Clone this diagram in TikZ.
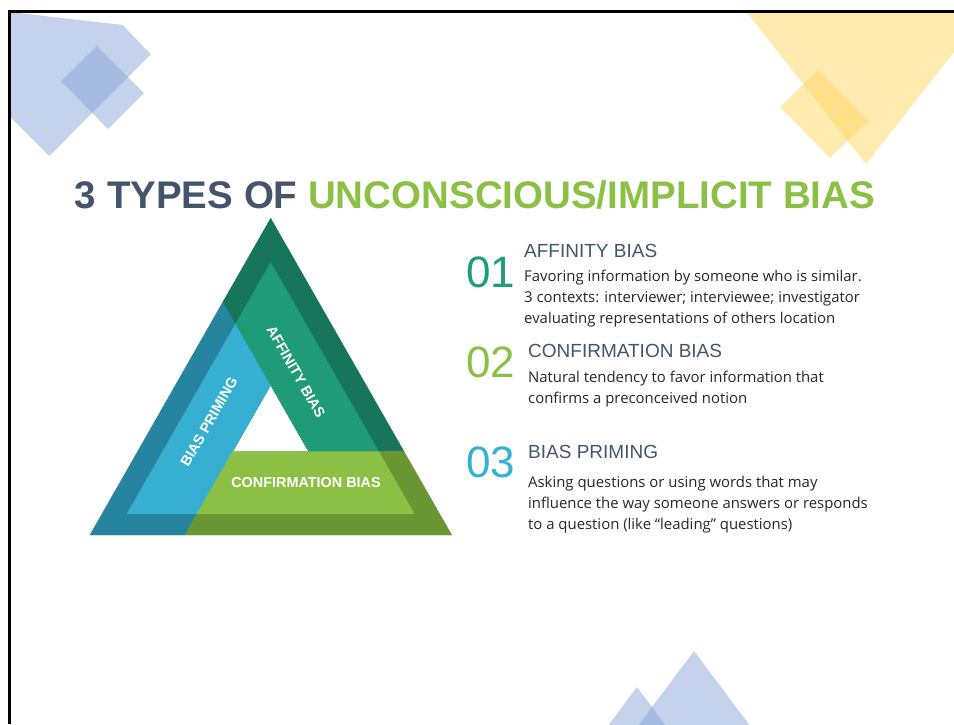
\documentclass[tikz,border=0pt]{standalone}
\usepackage{fontspec}
\setmainfont{Open Sans}
\newfontfamily\headfont{Liberation Sans}
\usetikzlibrary{positioning}

\definecolor{slate}{HTML}{44546A}
\definecolor{titlegreen}{HTML}{8CC044}
\definecolor{numteal}{HTML}{1F9C78}
\definecolor{numgreen}{HTML}{8CC044}
\definecolor{numblue}{HTML}{36B0D3}
\definecolor{bluedark}{HTML}{26849E}
\definecolor{bluelight}{HTML}{36AFD2}
\definecolor{greendark}{HTML}{17755C}
\definecolor{greenlight}{HTML}{1F9B77}
\definecolor{olivedark}{HTML}{6A9533}
\definecolor{olivelight}{HTML}{8CC045}
\definecolor{decoblue}{HTML}{89A5D9}
\definecolor{decoyellow}{HTML}{FFD55F}

\begin{document}
\begin{tikzpicture}[
        x=1pt, y=-1pt,
        band/.style={fill=#1, draw=#1, line width=0.4pt},
        deco/.style={fill=#1, fill opacity=0.5},
        bandlbl/.style={
            font=\headfont\bfseries\fontsize{14.4}{14.4}\selectfont,
            text=white,
            inner sep=0pt
        },
        heading/.style={
            font=\headfont\fontsize{19}{19}\selectfont,
            text=slate,
            anchor=base west,
            inner sep=0pt
        },
        bignum/.style={
            font=\headfont\fontsize{44}{44}\selectfont,
            anchor=base west,
            inner sep=0pt
        },
        body/.style={
            font=\fontsize{14.9}{21}\selectfont,
            text=black!85,
            align=left,
            inner sep=0pt
        }
    ]

        \clip (0,0) rectangle (954,724);

        \fill[deco=decoblue] (10,12) -- (122.7,25) -- (150.7,54.3) -- (49.3,156) -- (10,116.7) -- cycle;
        \fill[deco=decoblue] (97,46) -- (144,93) -- (108,129) -- (61,81) -- cycle;
        \fill[deco=decoyellow] (745,10) -- (987,10) -- (866,164) -- cycle;
        \fill[deco=decoyellow] (818,70) -- (868,121) -- (830,158) -- (780,107) -- cycle;
        \fill[deco=decoblue] (694,651) -- (760.75,740) -- (627.25,740) -- cycle;
        \fill[deco=decoblue] (637,687) -- (676.75,740) -- (597.25,740) -- cycle;

        \draw[line width=3pt] (9,724) -- (9,11) -- (954,11);

        \node[font=\headfont\bfseries\fontsize{38.5}{40}\selectfont, anchor=base, inner sep=0pt] (title) at (475,208)
            {\textcolor{slate}{3 TYPES OF} \textcolor{titlegreen}{UNCONSCIOUS/IMPLICIT BIAS}};

        \coordinate (A)  at (270.7,218.3);
        \coordinate (BL) at (90,535);
        \coordinate (BR) at (451.7,535);
        \coordinate (a)  at (270.7,262);
        \coordinate (bl) at (126.7,514);
        \coordinate (br) at (414.7,514);
        \coordinate (H)  at (270.7,385);
        \coordinate (PL) at (223.07,301.65);
        \coordinate (PR) at (404.09,451.7);
        \coordinate (HL) at (232.58,451.7);
        \coordinate (HR) at (308.82,451.7);
        \coordinate (BB) at (184.97,535);

        \filldraw[band=bluedark]  (BL) -- (PL) -- (H) -- (BB) -- cycle;
        \filldraw[band=greendark] (A) -- (PR) -- (HR) -- (H) -- (PL) -- cycle;
        \filldraw[band=olivedark] (HL) -- (PR) -- (BR) -- (BB) -- cycle;
        \begin{scope}
            \clip (a) -- (bl) -- (br) -- cycle;
            \filldraw[band=bluelight]  (BL) -- (PL) -- (H) -- (BB) -- cycle;
            \filldraw[band=greenlight] (A) -- (PR) -- (HR) -- (H) -- (PL) -- cycle;
            \filldraw[band=olivelight] (HL) -- (PR) -- (BR) -- (BB) -- cycle;
        \end{scope}

        \node[bandlbl, rotate=-60.25] (lblAff)  at (296,372) {AFFINITY BIAS};
        \node[bandlbl, rotate=60.25]  (lblPrim) at (209,422) {BIAS PRIMING};
        \node[bandlbl]                (lblConf) at (306,483) {CONFIRMATION BIAS};

        \node[heading] (hAff) at (524,257) {AFFINITY BIAS};
        \node[body, below right=13pt and 0pt of hAff.south west] (bAff)
            {Favoring information by someone who is similar.\\3 contexts: interviewer; interviewee; investigator\\evaluating representations of others location};
        \node[bignum, text=numteal] (nAff) at (466,287) {01};

        \node[heading] (hConf) at (528,357) {CONFIRMATION BIAS};
        \node[body, below right=13.4pt and 0pt of hConf.south west] (bConf)
            {Natural tendency to favor information that\\confirms a preconceived notion};
        \node[bignum, text=numgreen] (nConf) at (466,377) {02};

        \node[heading] (hPrim) at (528,458) {BIAS PRIMING};
        \node[body, below right=17.8pt and 0pt of hPrim.south west] (bPrim)
            {Asking questions or using words that may\\influence the way someone answers or responds\\to a question (like “leading” questions)};
        \node[bignum, text=numblue] (nPrim) at (466,477) {03};

    \end{tikzpicture}
\end{document}
